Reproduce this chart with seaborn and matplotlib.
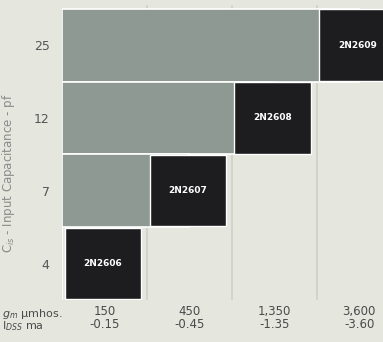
import numpy as np
import pandas as pd
import seaborn as sns
import matplotlib.pyplot as plt

# data
capacitance = ['25', '12', '7', '4']          # rows, top to bottom (pf)
devices = ['2N2609', '2N2608', '2N2607', '2N2606']
column = [3, 2, 1, 0]                          # which gm / Idss column each device sits in
gm = ['150', '450', '1,350', '3,600']           # umhos
idss = ['-0.15', '-0.45', '-1.35', '-3.60']    # ma

grey = '#8e9994'
dark = '#1d1d1f'
bg = '#e5e6de'

sns.set_theme(style='white')
plt.rcParams['font.family'] = ['DejaVu Sans']

fig = plt.figure(figsize=(3.83, 3.42), dpi=100, facecolor=bg)
ax = fig.add_axes([0.162, 0.123, 0.838, 0.862], facecolor=bg)

df = pd.DataFrame({'cap': capacitance, 'device': devices, 'col': column})
df['grey_len'] = [c + 0.5 if c > 0 else 0 for c in column]

# grey band running from the left edge up to each device
sns.barplot(data=df, x='grey_len', y='cap', order=capacitance, orient='h',
            color=grey, width=1.0, edgecolor='white', linewidth=1.2, ax=ax)
for p in ax.patches:
    p.set_facecolor(grey)

# dark device boxes
for i, row in df.iterrows():
    ax.barh(i, 0.9, left=row['col'] + 0.03, height=0.98, color=dark, zorder=3)
    ax.text(row['col'] + 0.48, i, row['device'], color='white', fontsize=6.5,
            fontweight='bold', ha='center', va='center', zorder=4)

# faint column lines
for x in [1, 2, 3]:
    ax.axvline(x, color='#cfd0c8', lw=1.2, zorder=0.5)

ax.set_xlim(0, 3.78)
ax.set_ylim(3.5, -0.55)
ax.set_xticks([i + 0.5 for i in range(4)])
ax.set_xticklabels([f'{g}\n{d}' for g, d in zip(gm, idss)], fontsize=8.5,
                   color='#4a4a4a', linespacing=0.95)
ax.tick_params(axis='x', length=0, pad=4)
ax.tick_params(axis='y', length=0, pad=9, labelsize=9, labelcolor='#555555')
ax.set_xlabel('')
ax.set_ylabel('C$_{is}$ - Input Capacitance - pf', fontsize=8.5, color='#8a8a8a')
ax.yaxis.set_label_coords(-0.14, 0.43)
for s in ax.spines.values():
    s.set_visible(False)

fig.text(0.005, 0.074, '$g_m$ μmhos.', fontsize=8, color='#4a4a4a', va='baseline')
fig.text(0.005, 0.036, 'I$_{DSS}$ ma', fontsize=8, color='#4a4a4a', va='baseline')

fig.savefig('out.png', dpi=100, facecolor=bg)
